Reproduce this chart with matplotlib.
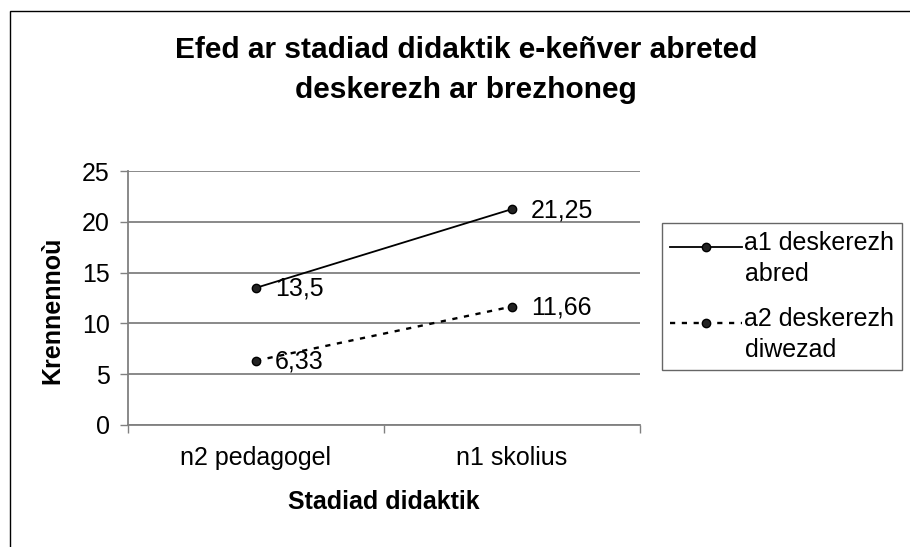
import matplotlib

matplotlib.use("Agg")
import matplotlib.pyplot as plt
from matplotlib.legend_handler import HandlerLine2D
from matplotlib.patches import Rectangle

categories = ["n2 pedagogel", "n1 skolius"]
a1_values = [13.5, 21.25]
a2_values = [6.33, 11.66]
a1_labels = ["13,5", "21,25"]
a2_labels = ["6,33", "11,66"]
series_names = ["a1 deskerezh\nabred", "a2 deskerezh\ndiwezad"]
y_ticks = [0, 5, 10, 15, 20, 25]
title_lines = ["Efed ar stadiad didaktik e-keñver abreted", "deskerezh ar brezhoneg"]


class TopLineHandler(HandlerLine2D):
    """Legend handle drawn level with the first line of a two-line label."""

    def __init__(self, shift, **kwargs):
        super().__init__(**kwargs)
        self.shift = shift

    def create_artists(self, legend, orig_handle, xdescent, ydescent, width, height, fontsize, trans):
        return super().create_artists(legend, orig_handle, xdescent, ydescent - self.shift,
                                      width, height, fontsize, trans)


plt.rcParams["font.family"] = ["Liberation Sans", "DejaVu Sans"]

W, H = 910, 547
fig = plt.figure(figsize=(W / 100, H / 100), dpi=100)
# chart-area border (right and bottom edges fall outside the picture)
fig.patches.append(Rectangle((10 / W, -0.05), 0.99, 1.05 - 11 / H, transform=fig.transFigure,
                             fill=False, edgecolor="black", linewidth=1.0))

left, right, top, bottom = 128, 640, 171, 425
ax = fig.add_axes([left / W, 1 - bottom / H, (right - left) / W, (bottom - top) / H])

x = [0.5, 1.5]
line1, = ax.plot(x, a1_values, color="black", linewidth=1.3, marker="o", markersize=6,
                 markerfacecolor="#222222", markeredgecolor="black")
line2, = ax.plot(x, a2_values, color="black", linewidth=1.7, linestyle=(0, (2.2, 2.8)),
                 marker="o", markersize=6, markerfacecolor="#222222", markeredgecolor="black")

for values, labels in ((a1_values, a1_labels), (a2_values, a2_labels)):
    for xi, v, lab in zip(x, values, labels):
        ax.annotate(lab, (xi, v), xytext=(19, -1), textcoords="offset pixels",
                    va="center", ha="left", fontsize=18)

ax.set_xlim(0, 2)
ax.set_ylim(0, 25)
ax.set_yticks(y_ticks)
ax.set_yticklabels([str(t) for t in y_ticks], fontsize=18)
ax.set_xticks([0, 1, 2])
ax.set_xticklabels([])
ax.set_xticks(x, minor=True)
ax.set_xticklabels(categories, minor=True, fontsize=18)
ax.tick_params(axis="x", which="minor", length=0, pad=15)
ax.tick_params(axis="x", which="major", length=6, direction="out", width=1)
ax.tick_params(axis="y", length=6, direction="out", width=1, pad=7)
ax.yaxis.grid(True, color="#808080", linewidth=1.3)
ax.set_axisbelow(True)
for side in ("top", "right"):
    ax.spines[side].set_visible(False)
for side in ("left", "bottom"):
    ax.spines[side].set_color("#808080")
    ax.spines[side].set_linewidth(1.3)
ax.tick_params(colors="#808080", labelcolor="black")

ax.set_ylabel("Krennennoù", fontsize=18, fontweight="bold")
ax.yaxis.set_label_coords(-0.125, 0.45)
ax.set_xlabel("Stadiad didaktik", fontsize=18, fontweight="bold")
ax.xaxis.set_label_coords(0.5, -0.255)

fig.text(466 / W, 1 - 58 / H, title_lines[0], ha="center", va="baseline",
         fontsize=21.5, fontweight="bold")
fig.text(466 / W, 1 - 98 / H, title_lines[1], ha="center", va="baseline",
         fontsize=21.5, fontweight="bold")

leg = fig.legend([line1, line2], series_names, loc="upper left",
                 bbox_to_anchor=(662 / W, 1 - 223 / H), fontsize=18, frameon=True,
                 fancybox=False, edgecolor="#404040", handlelength=2.9, handletextpad=0.1,
                 borderpad=0.3, labelspacing=0.85, borderaxespad=0,
                 handler_map={line1: TopLineHandler(17.5), line2: TopLineHandler(17.5)})
leg.get_frame().set_linewidth(1.0)
for text in leg.get_texts():
    text.set_linespacing(1.38)

fig.savefig("out.png", dpi=100)
